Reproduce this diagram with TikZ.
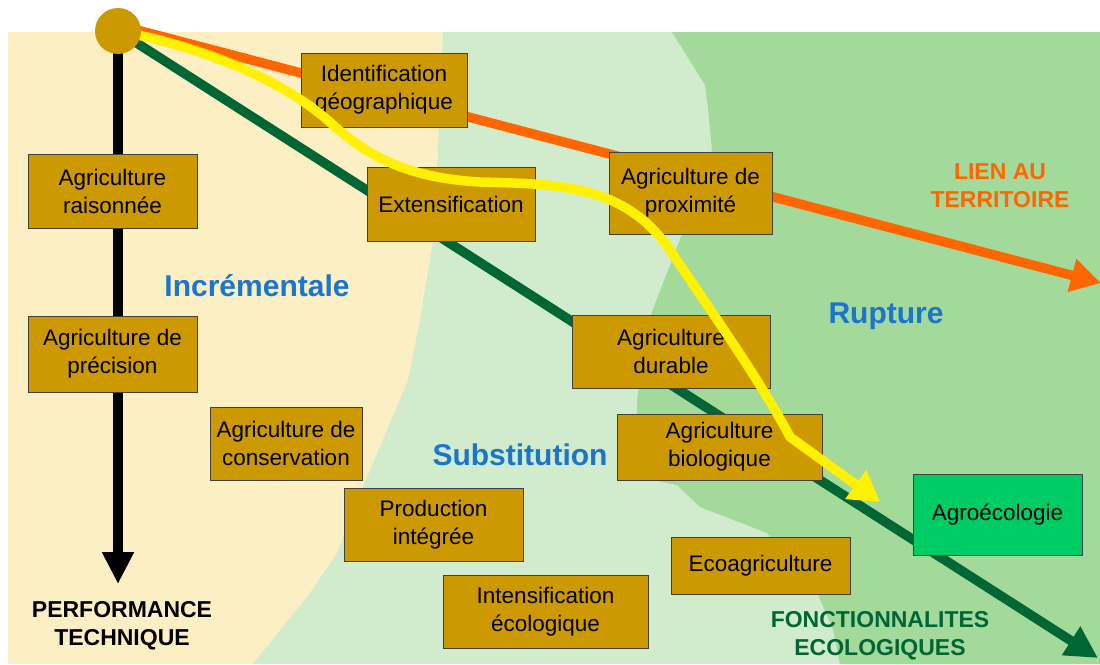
\documentclass[tikz,border=0pt]{standalone}
\usepackage{fontspec}
\setmainfont{Liberation Sans}
\usetikzlibrary{arrows.meta}

\definecolor{beige}{HTML}{FDEFC4}
\definecolor{palegreen}{HTML}{D1EBCD}
\definecolor{midgreen}{HTML}{A3D99B}
\definecolor{gold}{HTML}{CC9900}
\definecolor{agreen}{HTML}{00CC66}
\definecolor{track orange}{HTML}{FF6600}
\definecolor{darkgreen}{HTML}{006633}
\definecolor{zoneblue}{HTML}{1A75CF}

\pgfdeclarelayer{front}
\pgfsetlayers{main,front}

\begin{document}
\begin{tikzpicture}[x=1pt,y=-1pt,
    box/.style={draw=black!75, line width=0.8pt, fill=gold, align=center,
        inner sep=0pt, font=\fontsize{22.5}{28}\selectfont},
    zone/.style={text=zoneblue, font=\bfseries\fontsize{30}{34}\selectfont},
    axis/.style={align=center, font=\bfseries\fontsize{23}{28}\selectfont},
    track/.style={line width=9.5pt, line join=round}]

\useasboundingbox (0,0) rectangle (1100,664);

% Background zones
\fill[beige] (8,32) rectangle (1100,664);
\fill[palegreen] (443,32) -- (438,150) -- (433,240) -- (420,320) -- (408,380)
    -- (363,487) -- (337,553) -- (310,593) -- (253,664) -- (1100,664)
    -- (1100,32) -- cycle;
\fill[midgreen] (672,32) -- (705,85) -- (708,108) -- (712,150) -- (700,190)
    -- (677,247) -- (650,317) -- (637,400) -- (637,477) -- (677,485)
    -- (700,507) -- (767,533) -- (813,583) -- (833,630) -- (840,664)
    -- (1100,664) -- (1100,32) -- cycle;

% Origin dot (kept on top of the tracks)
\begin{pgfonlayer}{front}
\node[circle,
    fill=gold,
    minimum size=46pt,
    inner sep=0pt] (src) at (118,31){};
\end{pgfonlayer}

% Ends of the axes
\coordinate (perfEnd) at (118,584);
\coordinate (lienEnd) at (1101,283);
\coordinate (fonctEnd) at (1098,658);
\coordinate (agroEnd) at (880,502);

% Axes
\draw[track, black, -{Triangle[width=30pt,length=32pt]}] (src.center) -- (perfEnd);
\draw[track, track orange, -{Triangle[width=32pt,length=30pt]}] ([yshift=6pt]src.center) -- (lienEnd);
\draw[track, darkgreen, -{Triangle[width=32pt,length=32pt]}] (src.center) -- (fonctEnd);

% Practices
\node[box, minimum width=166pt, minimum height=74pt] (ident) at (384,90) {Identification\\géographique};
\node[box, minimum width=169pt, minimum height=74pt] (raison) at (112.5,191) {Agriculture\\raisonnée};
\node[box, minimum width=168pt, minimum height=74pt] (extens) at (451,204) {Extensification};
\node[box, minimum width=163pt, minimum height=82pt] (proxi) at (690.5,193) {Agriculture de\\proximité};
\node[box, minimum width=169pt, minimum height=76pt] (precis) at (112.5,354) {Agriculture de\\précision};
\node[box, minimum width=198pt, minimum height=73pt] (durable) at (671,351.5) {Agriculture\\durable};
\node[box, minimum width=152pt, minimum height=73pt] (conserv) at (286,443.5) {Agriculture de\\conservation};
\node[box, minimum width=205pt, minimum height=66pt] (bio) at (719.5,447) {Agriculture\\biologique};
\node[box, minimum width=179pt, minimum height=73pt] (integ) at (433.5,524.5) {Production\\intégrée};
\node[box, minimum width=169pt, minimum height=81pt, fill=agreen] (agroeco) at (997.5,514.5) {Agroécologie};
\node[box, minimum width=179pt, minimum height=57pt] (ecoagri) at (760.5,565.5) {Ecoagriculture};
\node[box, minimum width=205pt, minimum height=73pt] (intens) at (545.5,611.5) {Intensification\\écologique};

% Path towards agroecology
\draw[track, yellow, -{Triangle[width=34pt,length=30pt]}] (src.center)
    .. controls (200,46) and (285,80) .. (333,125)
    .. controls (370,158) and (410,178) .. (480,182)
    .. controls (560,184) and (625,185) .. (670,250)
    .. controls (710,310) and (760,380) .. (790,437) -- (agroEnd);

% Zone labels
\node[zone] (incr) at (257,286) {Incrémentale};
\node[zone] (subst) at (520,455) {Substitution};
\node[zone] (rupt) at (886,316) {Rupture};

% Axis labels
\node[axis, text=track orange] (lien) at (1000,186) {LIEN AU\\TERRITOIRE};
\node[axis] (perf) at (122,626) {PERFORMANCE\\TECHNIQUE};
\node[axis, text=darkgreen] (fonct) at (880,636) {FONCTIONNALITES\\ECOLOGIQUES};

\end{tikzpicture}
\end{document}
